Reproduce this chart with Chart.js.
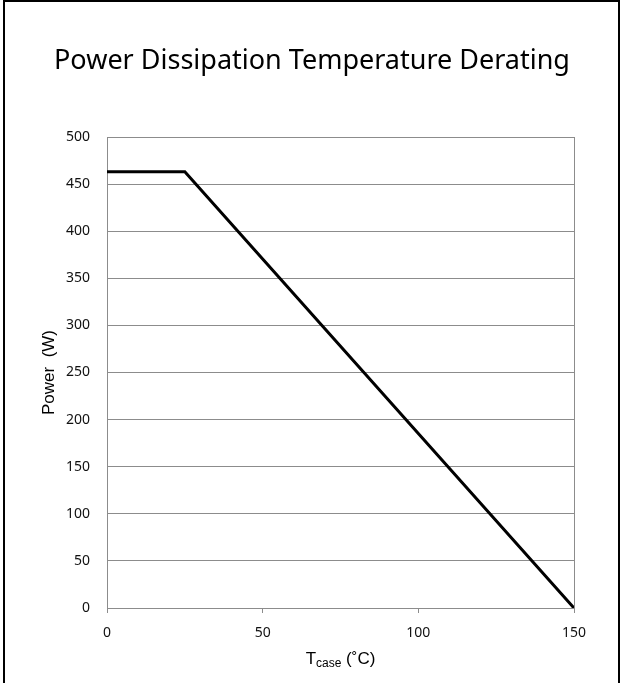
<!DOCTYPE html>
<html>
<head>
<meta charset="utf-8">
<script src="https://cdn.jsdelivr.net/npm/chart.js@4"></script>
<style>
  html, body { margin: 0; padding: 0; background: #fff; }
  #wrap { position: relative; width: 621px; height: 683px; }
  #frame {
    position: absolute; left: 3px; top: 0; width: 617px; height: 683px;
    box-sizing: border-box; border: 2px solid #000; border-bottom: none;
    pointer-events: none;
  }
  canvas { position: absolute; left: 0; top: 0; }
</style>
</head>
<body>
<div id="wrap">
  <canvas id="chart" width="621" height="683"></canvas>
  <div id="frame"></div>
</div>
<script>
// derating curve (T case in C, power in W)
const tempPoints = [0, 25, 150];
const powerPoints = [463, 463, 0];
const xTicks = [0, 50, 100, 150];
const yTicks = [0, 50, 100, 150, 200, 250, 300, 350, 400, 450, 500];
const chartTitle = "Power Dissipation Temperature Derating";

const gridGray = "#8c8c8c";

// draws the title and axis titles (x title has a subscript)
const labelsPlugin = {
  id: "labels",
  afterDraw(chart) {
    const c = chart.ctx;
    const area = chart.chartArea;
    c.save();
    c.fillStyle = "#000";
    c.textBaseline = "alphabetic";
    c.textAlign = "center";
    c.font = "27px 'Noto Sans'";
    c.fillText(chartTitle, 312, 69);

    // y axis title
    c.save();
    c.translate(54, (area.top + area.bottom) / 2);
    c.rotate(-Math.PI / 2);
    c.font = "17px 'Liberation Sans'";
    c.fillText("Power  (W)", 0, 0);
    c.restore();

    // x axis title: T + subscript "case" + " (˚C)"
    const big = "17px 'Liberation Sans'";
    const small = "12px 'Liberation Sans'";
    c.font = big;
    const wT = c.measureText("T").width;
    const wRest = c.measureText(" (˚C)").width;
    c.font = small;
    const wSub = c.measureText("case").width;
    const total = wT + wSub + wRest;
    let x = (area.left + area.right) / 2 - total / 2;
    const base = 664;
    c.textAlign = "left";
    c.font = big;
    c.fillText("T", x, base);
    x += wT;
    c.font = small;
    c.fillText("case", x, base + 3);
    x += wSub;
    c.font = big;
    c.fillText(" (˚C)", x, base);
    c.restore();
  }
};

new Chart(document.getElementById("chart"), {
  type: "line",
  data: {
    datasets: [{
      data: tempPoints.map((t, i) => ({ x: t, y: powerPoints[i] })),
      borderColor: "#000",
      borderWidth: 3,
      pointRadius: 0,
      tension: 0,
      fill: false
    }]
  },
  options: {
    responsive: false,
    animation: false,
    layout: { padding: { left: 0, right: 47, top: 137, bottom: 0 } },
    plugins: {
      legend: { display: false },
      tooltip: { enabled: false }
    },
    scales: {
      x: {
        type: "linear",
        min: 0,
        max: 150,
        afterBuildTicks: (s) => { s.ticks = xTicks.map(v => ({ value: v })); },
        afterFit: (s) => { s.height = 75; },
        grid: {
          color: (ctx) => (ctx.tick && ctx.tick.value === 150 ? gridGray : "transparent"),
          tickColor: gridGray,
          tickLength: 5,
          lineWidth: 1
        },
        border: { color: gridGray, width: 1 },
        ticks: {
          padding: 12,
          color: "#111",
          font: { family: "'Noto Sans'", size: 14 }
        }
      },
      y: {
        min: 0,
        max: 500,
        afterBuildTicks: (s) => { s.ticks = yTicks.map(v => ({ value: v })); },
        afterFit: (s) => { s.width = 107; },
        grid: {
          color: gridGray,
          drawTicks: false,
          lineWidth: 1
        },
        border: { color: gridGray, width: 1 },
        ticks: {
          padding: 17,
          color: "#111",
          font: { family: "'Noto Sans'", size: 14 }
        }
      }
    }
  },
  plugins: [labelsPlugin]
});
</script>
</body>
</html>
